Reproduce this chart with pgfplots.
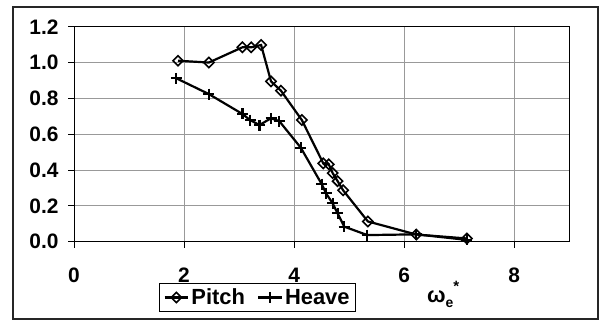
\documentclass[border=0pt]{standalone}
\usepackage{pgfplots}
\pgfplotsset{compat=1.18}
\usepackage{fontspec}
\setmainfont{Liberation Sans}
\begin{document}
\begin{tikzpicture}
\useasboundingbox (0,0) rectangle (603bp,320bp);
\fill[white] (0,0) rectangle (603bp,320bp);
\draw[black!85, line width=1.2bp] (13bp,1bp) rectangle (598bp,313bp);
\begin{axis}[
  at={(74bp,78.3bp)}, anchor=south west,
  scale only axis, width=495.3bp, height=215bp,
  xmin=0, xmax=9, ymin=0, ymax=1.2,
  xtick={0,2,4,6,8}, ytick={0,0.2,0.4,0.6,0.8,1.0,1.2},
  grid=major, grid style={black!40, line width=1bp},
  axis line style={black, line width=1bp},
  tick align=outside, major tick length=6bp,
  tick style={black, line width=1bp},
  xtick pos=bottom, ytick pos=left,
  /pgf/number format/assume math mode=true,
  ticklabel style={font=\bfseries\fontsize{21}{21}\selectfont},
  yticklabel style={xshift=-6bp},
  y tick label style={/pgf/number format/.cd, fixed, fixed zerofill, precision=1},
  xticklabel style={yshift=-17bp},
  legend columns=2,
  legend style={at={(axis description cs:0.3705,-0.2595)}, anchor=center,
    draw=black, line width=1bp, font=\bfseries\fontsize{22}{22}\selectfont,
    inner xsep=4bp, inner ysep=3bp,
    /tikz/every even column/.append style={column sep=10bp}},
  legend image code/.code={\draw[mark repeat=2,mark phase=2,#1] plot coordinates {(0cm,0cm) (0.42cm,0cm) (0.84cm,0cm)};},
]
\addplot[black, line width=2.2bp, mark=square, mark size=3.6bp, mark options={rotate=45, line width=1.6bp, fill=white}] coordinates {
(1.89,1.010)(2.45,1.000)(3.06,1.085)(3.22,1.085)(3.40,1.098)(3.58,0.895)(3.76,0.843)(4.14,0.679)(4.53,0.437)(4.63,0.432)(4.70,0.383)(4.79,0.338)(4.89,0.287)(5.34,0.113)(6.22,0.040)(7.14,0.018)
};
\addlegendentry{Pitch}
\addplot[black, line width=2.2bp, mark=+, mark size=5.5bp, mark options={line width=2.2bp}] coordinates {
(1.86,0.912)(2.45,0.824)(3.06,0.713)(3.20,0.679)(3.37,0.651)(3.58,0.689)(3.73,0.673)(4.12,0.525)(4.50,0.322)(4.58,0.270)(4.70,0.214)(4.79,0.158)(4.91,0.084)(5.33,0.037)(6.22,0.041)(7.14,0.010)
};
\addlegendentry{Heave}
\end{axis}
\node[anchor=base west, inner sep=0pt, font=\bfseries\fontsize{22}{22}\selectfont] at (427bp,18bp) {ω\raisebox{-0.25em}{\fontsize{14}{14}\selectfont e}\raisebox{0.5em}{\fontsize{15}{15}\selectfont *}};
\end{tikzpicture}
\end{document}
